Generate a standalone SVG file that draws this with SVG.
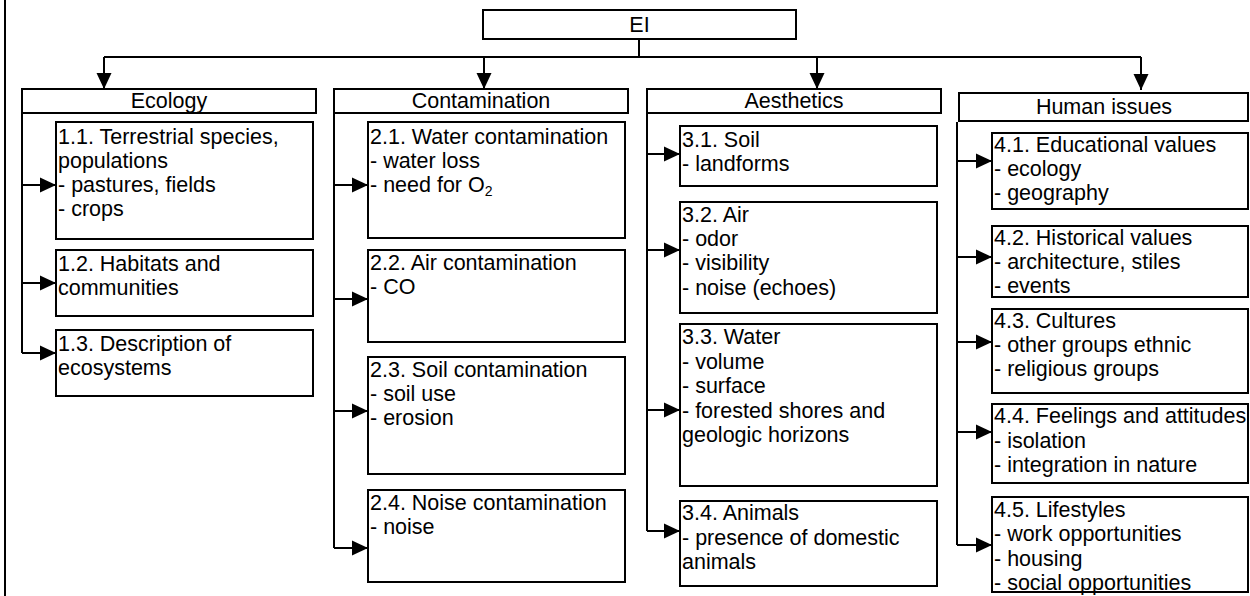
<svg xmlns="http://www.w3.org/2000/svg" width="1250" height="596" viewBox="0 0 1250 596">
  <style>
    .box { fill: #ffffff; stroke: #000000; stroke-width: 2; }
    .t { font-family: "Liberation Sans", Arial, sans-serif; font-size: 21.5px; fill: #000000; }
    .mid { text-anchor: middle; }
    .wire { fill: none; stroke: #000000; stroke-width: 2; }
    .arrow { fill: none; stroke: #000000; stroke-width: 2; marker-end: url(#head); }
    .sub { font-size: 14px; }
  </style>
  <defs>
    <marker id="head" viewBox="0 0 16 16" refX="16" refY="8" markerWidth="16" markerHeight="16" markerUnits="userSpaceOnUse" orient="auto">
      <path d="M0,0.5 L16,8 L0,15.5 z" fill="#000000"/>
    </marker>
  </defs>

  <rect width="1250" height="596" fill="#ffffff"/>
  <!-- page frame line on the left -->
  <path class="wire" d="M5,0 V596"/>

  <!-- connectors -->
  <g id="connectors">
    <path class="wire" d="M639,39 V57"/>
    <path class="wire" d="M104,57 H1141"/>
    <path class="arrow" d="M104,57 V89"/>
    <path class="arrow" d="M484,57 V89"/>
    <path class="arrow" d="M817,57 V89"/>
    <path class="arrow" d="M1141,57 V90"/>

    <!-- Ecology branch -->
    <path class="wire" d="M22,113 V353"/>
    <path class="arrow" d="M22,185 H56"/>
    <path class="arrow" d="M22,283 H56"/>
    <path class="arrow" d="M22,353 H56"/>

    <!-- Contamination branch -->
    <path class="wire" d="M334,113 V548"/>
    <path class="arrow" d="M334,185 H368"/>
    <path class="arrow" d="M334,299 H368"/>
    <path class="arrow" d="M334,411 H368"/>
    <path class="arrow" d="M334,548 H368"/>

    <!-- Aesthetics branch -->
    <path class="wire" d="M647,113 V531"/>
    <path class="arrow" d="M647,154 H680"/>
    <path class="arrow" d="M647,250 H680"/>
    <path class="arrow" d="M647,410 H680"/>
    <path class="arrow" d="M647,531 H680"/>

    <!-- Human issues branch -->
    <path class="wire" d="M957,122 V545"/>
    <path class="arrow" d="M957,161 H992"/>
    <path class="arrow" d="M957,257 H992"/>
    <path class="arrow" d="M957,342 H992"/>
    <path class="arrow" d="M957,432 H992"/>
    <path class="arrow" d="M957,545 H992"/>
  </g>

  <!-- root -->
  <g id="ei">
    <rect class="box" x="483" y="10" width="313" height="29"/>
    <text class="t mid" x="639.5" y="32">EI</text>
  </g>

  <!-- category headers -->
  <g id="ecology">
    <rect class="box" x="22" y="89" width="294" height="24"/>
    <text class="t mid" x="169" y="108">Ecology</text>
  </g>
  <g id="contamination">
    <rect class="box" x="334" y="89" width="294" height="24"/>
    <text class="t mid" x="481" y="108">Contamination</text>
  </g>
  <g id="aesthetics">
    <rect class="box" x="647" y="89" width="294" height="24"/>
    <text class="t mid" x="794" y="108">Aesthetics</text>
  </g>
  <g id="human-issues">
    <rect class="box" x="959" y="93" width="289" height="28"/>
    <text class="t mid" x="1104" y="114">Human issues</text>
  </g>

  <!-- Ecology items -->
  <g id="n1-1">
    <rect class="box" x="56" y="122" width="257" height="117"/>
    <text class="t"><tspan x="58" y="144">1.1. Terrestrial species,</tspan><tspan x="58" y="168">populations</tspan><tspan x="58" y="192">- pastures, fields</tspan><tspan x="58" y="216">- crops</tspan></text>
  </g>
  <g id="n1-2">
    <rect class="box" x="56" y="250" width="257" height="66"/>
    <text class="t"><tspan x="58" y="271">1.2. Habitats and</tspan><tspan x="58" y="295">communities</tspan></text>
  </g>
  <g id="n1-3">
    <rect class="box" x="56" y="330" width="257" height="66"/>
    <text class="t"><tspan x="58" y="351">1.3. Description of</tspan><tspan x="58" y="375">ecosystems</tspan></text>
  </g>

  <!-- Contamination items -->
  <g id="n2-1">
    <rect class="box" x="368" y="122" width="257" height="116"/>
    <text class="t"><tspan x="370" y="144">2.1. Water contamination</tspan><tspan x="370" y="168">- water loss</tspan><tspan x="370" y="192">- need for O<tspan class="sub" dy="4">2</tspan></tspan></text>
  </g>
  <g id="n2-2">
    <rect class="box" x="368" y="250" width="257" height="92"/>
    <text class="t"><tspan x="370" y="270">2.2. Air contamination</tspan><tspan x="370" y="294">- CO</tspan></text>
  </g>
  <g id="n2-3">
    <rect class="box" x="368" y="357" width="257" height="117"/>
    <text class="t"><tspan x="370" y="377">2.3. Soil contamination</tspan><tspan x="370" y="401">- soil use</tspan><tspan x="370" y="425">- erosion</tspan></text>
  </g>
  <g id="n2-4">
    <rect class="box" x="368" y="490" width="257" height="92"/>
    <text class="t"><tspan x="370" y="510">2.4. Noise contamination</tspan><tspan x="370" y="534">- noise</tspan></text>
  </g>

  <!-- Aesthetics items -->
  <g id="n3-1">
    <rect class="box" x="680" y="126" width="257" height="60"/>
    <text class="t"><tspan x="682" y="147">3.1. Soil</tspan><tspan x="682" y="171">- landforms</tspan></text>
  </g>
  <g id="n3-2">
    <rect class="box" x="680" y="202" width="257" height="111"/>
    <text class="t"><tspan x="682" y="222">3.2. Air</tspan><tspan x="682" y="246">- odor</tspan><tspan x="682" y="270">- visibility</tspan><tspan x="682" y="295">- noise (echoes)</tspan></text>
  </g>
  <g id="n3-3">
    <rect class="box" x="680" y="324" width="257" height="162"/>
    <text class="t"><tspan x="682" y="344">3.3. Water</tspan><tspan x="682" y="369">- volume</tspan><tspan x="682" y="393">- surface</tspan><tspan x="682" y="418">- forested shores and</tspan><tspan x="682" y="442">geologic horizons</tspan></text>
  </g>
  <g id="n3-4">
    <rect class="box" x="680" y="501" width="257" height="85"/>
    <text class="t"><tspan x="682" y="520">3.4. Animals</tspan><tspan x="682" y="545">- presence of domestic</tspan><tspan x="682" y="569">animals</tspan></text>
  </g>

  <!-- Human issues items -->
  <g id="n4-1">
    <rect class="box" x="992" y="133" width="256" height="76"/>
    <text class="t"><tspan x="994" y="152">4.1. Educational values</tspan><tspan x="994" y="176">- ecology</tspan><tspan x="994" y="200">- geography</tspan></text>
  </g>
  <g id="n4-2">
    <rect class="box" x="992" y="226" width="256" height="71"/>
    <text class="t"><tspan x="994" y="245">4.2. Historical values</tspan><tspan x="994" y="269">- architecture, stiles</tspan><tspan x="994" y="293">- events</tspan></text>
  </g>
  <g id="n4-3">
    <rect class="box" x="992" y="309" width="256" height="84"/>
    <text class="t"><tspan x="994" y="328">4.3. Cultures</tspan><tspan x="994" y="352">- other groups ethnic</tspan><tspan x="994" y="376">- religious groups</tspan></text>
  </g>
  <g id="n4-4">
    <rect class="box" x="992" y="404" width="256" height="79"/>
    <text class="t"><tspan x="994" y="423">4.4. Feelings and attitudes</tspan><tspan x="994" y="448">- isolation</tspan><tspan x="994" y="472">- integration in nature</tspan></text>
  </g>
  <g id="n4-5">
    <rect class="box" x="992" y="497" width="256" height="95"/>
    <text class="t"><tspan x="994" y="517">4.5. Lifestyles</tspan><tspan x="994" y="541">- work opportunities</tspan><tspan x="994" y="566">- housing</tspan><tspan x="994" y="590">- social opportunities</tspan></text>
  </g>
</svg>
